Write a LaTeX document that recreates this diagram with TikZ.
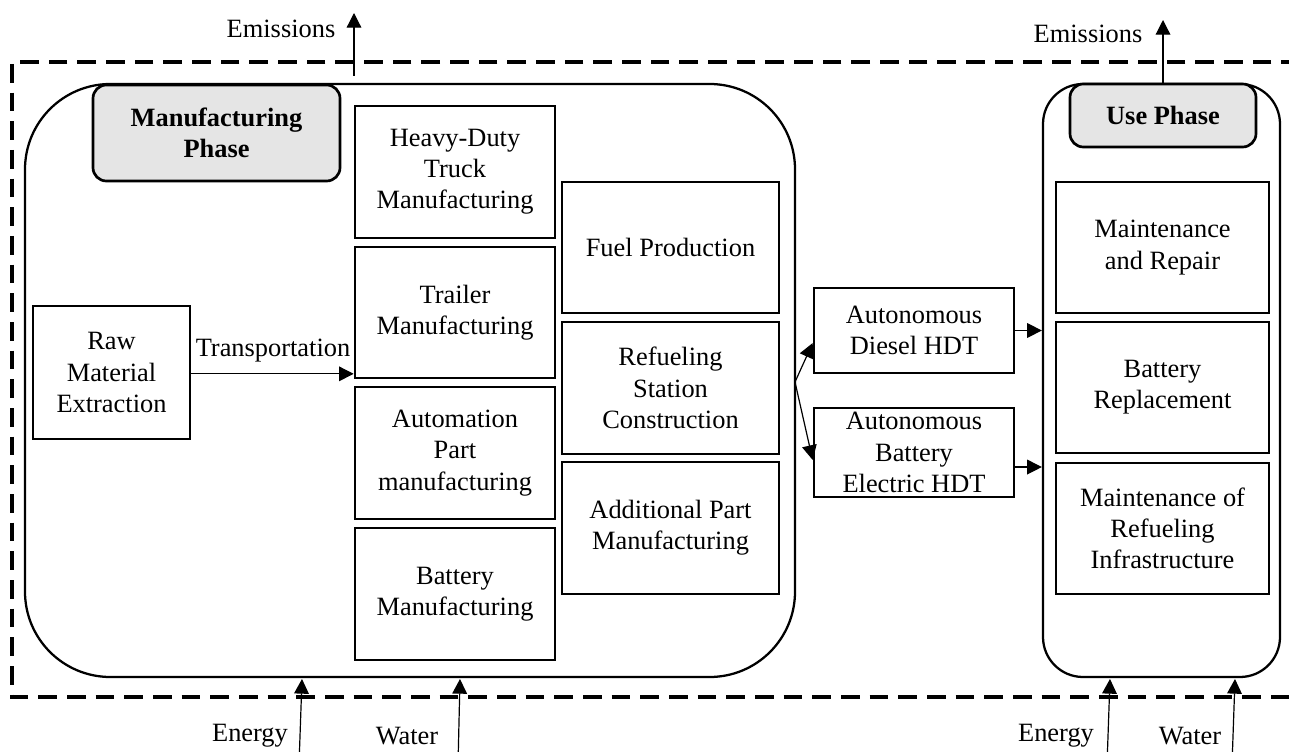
\documentclass[tikz,border=0pt]{standalone}
\usepackage{fontspec}
\setmainfont{Liberation Serif}
\usetikzlibrary{arrows.meta}
\tikzset{
  txt/.style={font=\fontsize{19.8}{23.4}\selectfont, align=center, inner sep=0pt},
  boxn/.style={txt, draw, line width=2pt, rectangle},
  cont/.style={draw, line width=1.7pt, rectangle, inner sep=0pt},
  phaselabel/.style={txt, draw, line width=2pt, fill=black!10, rounded corners=10pt, font=\fontsize{19.8}{23.4}\selectfont\bfseries},
  arr/.style={line width=0.9pt, -{Triangle[width=11pt,length=11pt]}},
  frame/.style={line width=2.3pt, dash pattern=on 14pt off 7.5pt},
}
\begin{document}
\begin{tikzpicture}[x=0.75pt,y=-0.75pt]
\useasboundingbox (0,0) rectangle (1289,752);
% dashed system boundary
\draw[frame] (1300,62) -- (12,62) -- (12,697) -- (1300,697);
% containers
\node[cont, rounded corners=64pt, minimum width=577.5pt, minimum height=444.75pt] (manu) at (410,380.5) {};
\node[cont, rounded corners=30pt, minimum width=177.75pt, minimum height=444.75pt] (use) at (1161.5,380.5) {};
% phase labels
\node[phaselabel, minimum width=185.25pt, minimum height=72pt] (manulabel) at (216.5,133) {Manufacturing\\Phase};
\node[phaselabel, minimum width=139.5pt, minimum height=47.25pt] (uselabel) at (1163,115.5) {Use Phase};
% boxes
\node[boxn, minimum width=117.75pt, minimum height=99.75pt] (raw) at (111.5,372.5) {Raw\\Material\\Extraction};
\node[boxn, minimum width=150pt, minimum height=99pt] (hd) at (455,172) {Heavy-Duty\\Truck\\Manufacturing};
\node[boxn, minimum width=150pt, minimum height=98.25pt] (trailer) at (455,312.5) {Trailer\\Manufacturing};
\node[boxn, minimum width=150pt, minimum height=99pt] (auto) at (455,453) {Automation\\Part\\manufacturing};
\node[boxn, minimum width=150pt, minimum height=99pt] (batt) at (455,594) {Battery\\Manufacturing};
\node[boxn, minimum width=162.75pt, minimum height=98.25pt] (fuel) at (670.5,247.5) {Fuel Production};
\node[boxn, minimum width=162.75pt, minimum height=99pt] (refuel) at (670.5,388) {Refueling\\Station\\Construction};
\node[boxn, minimum width=162.75pt, minimum height=99pt] (addit) at (670.5,528) {Additional Part\\Manufacturing};
\node[boxn, minimum width=150pt, minimum height=63.75pt] (diesel) at (914,330.5) {Autonomous\\Diesel HDT};
\node[boxn, minimum width=150pt, minimum height=66.75pt] (bev) at (914,452.5) {Autonomous\\Battery\\Electric HDT};
\node[boxn, minimum width=159.75pt, minimum height=98.25pt] (mr) at (1162.5,247.5) {Maintenance\\and Repair};
\node[boxn, minimum width=159.75pt, minimum height=98.25pt] (br) at (1162.5,387.5) {Battery\\Replacement};
\node[boxn, minimum width=159.75pt, minimum height=98.25pt] (mri) at (1162.5,528.5) {Maintenance of\\Refueling\\Infrastructure};
% transportation
\draw[arr] ([yshift=-1pt]raw.east) -- ([yshift=-1pt]raw.east -| trailer.west);
\node[txt] (transp) at (273,351) {Transportation};
% branch to vehicles
\coordinate (branch) at (795,382);
\draw[arr] (branch) -- ([yshift=-9.4pt]diesel.west);
\draw[arr] (branch) -- ([yshift=-5.6pt]bev.west);
\draw[arr] (diesel.east) -- (diesel.east -| use.west);
\draw[arr] ([yshift=-10.9pt]bev.east) -- ([yshift=-10.9pt]bev.east -| use.west);
% emissions
\coordinate (em1s) at (354,76);
\coordinate (em1e) at (354,13);
\draw[arr] (em1s) -- (em1e);
\node[txt] (em1t) at (281,29) {Emissions};
\coordinate (em2e) at (1163,20);
\draw[arr] (uselabel.north) -- (em2e);
\node[txt] (em2t) at (1088,34) {Emissions};
% inputs
\coordinate (e1s) at (299,765); \coordinate (e1e) at (302,679);
\coordinate (w1s) at (458,765); \coordinate (w1e) at (460,679);
\coordinate (e2s) at (1107,765); \coordinate (e2e) at (1110,679);
\coordinate (w2s) at (1232,765); \coordinate (w2e) at (1235,679);
\draw[arr] (e1s) -- (e1e);
\draw[arr] (w1s) -- (w1e);
\draw[arr] (e2s) -- (e2e);
\draw[arr] (w2s) -- (w2e);
\node[txt] (e1t) at (250,736) {Energy};
\node[txt] (w1t) at (407,736) {Water};
\node[txt] (e2t) at (1056,736) {Energy};
\node[txt] (w2t) at (1190,736) {Water};
\end{tikzpicture}
\end{document}
